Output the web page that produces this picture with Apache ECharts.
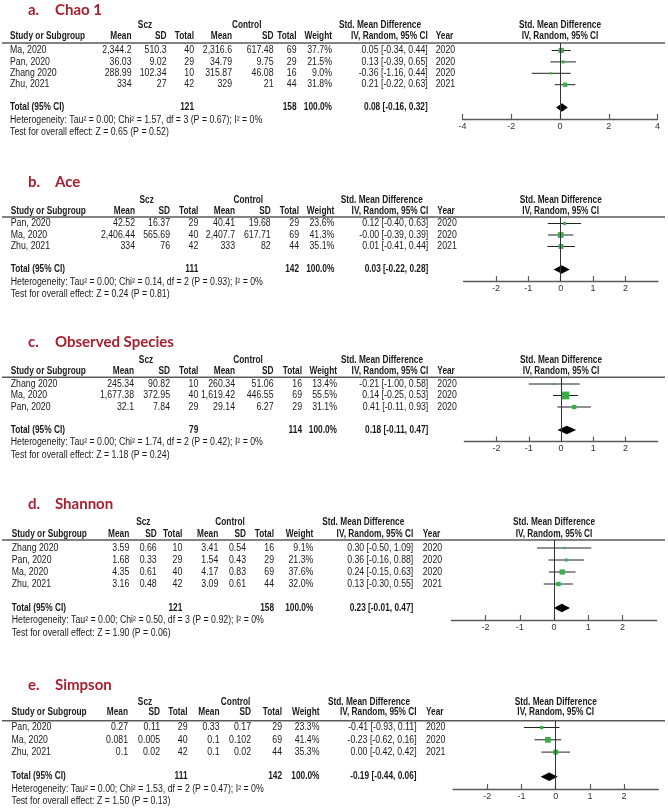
<!DOCTYPE html>
<html><head><meta charset="utf-8">
<script src="https://cdn.jsdelivr.net/npm/echarts@6/dist/echarts.min.js"></script>
<style>html,body{margin:0;padding:0;background:#fff}#c{width:668px;height:809px}</style>
</head><body><div id="c"></div>
<script>
// ---------- a. Chao 1 ----------
const chaoStudies = ['Ma, 2020', 'Pan, 2020', 'Zhang 2020', 'Zhu, 2021'];
const chaoSczMean = [2344.2, 36.03, 288.99, 334];
const chaoSczSD = [510.3, 9.02, 102.34, 27];
const chaoSczN = [40, 29, 10, 42];
const chaoCtlMean = [2316.6, 34.79, 315.87, 329];
const chaoCtlSD = [617.48, 9.75, 46.08, 21];
const chaoCtlN = [69, 29, 16, 44];
const chaoWeight = [37.7, 21.5, 9.0, 31.8];
const chaoSmd = [0.05, 0.13, -0.36, 0.21];
const chaoLow = [-0.34, -0.39, -1.16, -0.22];
const chaoHigh = [0.44, 0.65, 0.44, 0.63];
const chaoYear = [2020, 2020, 2020, 2021];
const chaoTotals = [121, 158];
const chaoPooled = [0.08, -0.16, 0.32];
const chaoHet = 'Heterogeneity: Tau² = 0.00; Chi² = 1.57, df = 3 (P = 0.67); I² = 0%';
const chaoTest = 'Test for overall effect: Z = 0.65 (P = 0.52)';
const chaoTicks = [-4, -2, 0, 2, 4];

// ---------- b. Ace ----------
const aceStudies = ['Pan, 2020', 'Ma, 2020', 'Zhu, 2021'];
const aceSczMean = [42.52, 2406.44, 334];
const aceSczSD = [16.37, 565.69, 76];
const aceSczN = [29, 40, 42];
const aceCtlMean = [40.41, 2407.7, 333];
const aceCtlSD = [19.68, 617.71, 82];
const aceCtlN = [29, 69, 44];
const aceWeight = [23.6, 41.3, 35.1];
const aceSmd = [0.12, -0, 0.01];
const aceLow = [-0.40, -0.39, -0.41];
const aceHigh = [0.63, 0.39, 0.44];
const aceYear = [2020, 2020, 2021];
const aceTotals = [111, 142];
const acePooled = [0.03, -0.22, 0.28];
const aceHet = 'Heterogeneity: Tau² = 0.00; Chi² = 0.14, df = 2 (P = 0.93); I² = 0%';
const aceTest = 'Test for overall effect: Z = 0.24 (P = 0.81)';
const aceTicks = [-2, -1, 0, 1, 2];

// ---------- c. Observed Species ----------
const obsStudies = ['Zhang 2020', 'Ma, 2020', 'Pan, 2020'];
const obsSczMean = [245.34, 1677.38, 32.1];
const obsSczSD = [90.82, 372.95, 7.84];
const obsSczN = [10, 40, 29];
const obsCtlMean = [260.34, 1619.42, 29.14];
const obsCtlSD = [51.06, 446.55, 6.27];
const obsCtlN = [16, 69, 29];
const obsWeight = [13.4, 55.5, 31.1];
const obsSmd = [-0.21, 0.14, 0.41];
const obsLow = [-1.00, -0.25, -0.11];
const obsHigh = [0.58, 0.53, 0.93];
const obsYear = [2020, 2020, 2020];
const obsTotals = [79, 114];
const obsPooled = [0.18, -0.11, 0.47];
const obsHet = 'Heterogeneity: Tau² = 0.00; Chi² = 1.74, df = 2 (P = 0.42); I² = 0%';
const obsTest = 'Test for overall effect: Z = 1.18 (P = 0.24)';
const obsTicks = [-2, -1, 0, 1, 2];

// ---------- d. Shannon ----------
const shanStudies = ['Zhang 2020', 'Pan, 2020', 'Ma, 2020', 'Zhu, 2021'];
const shanSczMean = [3.59, 1.68, 4.35, 3.16];
const shanSczSD = [0.66, 0.33, 0.61, 0.48];
const shanSczN = [10, 29, 40, 42];
const shanCtlMean = [3.41, 1.54, 4.17, 3.09];
const shanCtlSD = [0.54, 0.43, 0.83, 0.61];
const shanCtlN = [16, 29, 69, 44];
const shanWeight = [9.1, 21.3, 37.6, 32.0];
const shanSmd = [0.30, 0.36, 0.24, 0.13];
const shanLow = [-0.50, -0.16, -0.15, -0.30];
const shanHigh = [1.09, 0.88, 0.63, 0.55];
const shanYear = [2020, 2020, 2020, 2021];
const shanTotals = [121, 158];
const shanPooled = [0.23, -0.01, 0.47];
const shanHet = 'Heterogeneity: Tau² = 0.00; Chi² = 0.50, df = 3 (P = 0.92); I² = 0%';
const shanTest = 'Test for overall effect: Z = 1.90 (P = 0.06)';
const shanTicks = [-2, -1, 0, 1, 2];

// ---------- e. Simpson ----------
const simpStudies = ['Pan, 2020', 'Ma, 2020', 'Zhu, 2021'];
const simpSczMean = [0.27, 0.081, 0.1];
const simpSczSD = [0.11, 0.005, 0.02];
const simpSczN = [29, 40, 42];
const simpCtlMean = [0.33, 0.1, 0.1];
const simpCtlSD = [0.17, 0.102, 0.02];
const simpCtlN = [29, 69, 44];
const simpWeight = [23.3, 41.4, 35.3];
const simpSmd = [-0.41, -0.23, 0.00];
const simpLow = [-0.93, -0.62, -0.42];
const simpHigh = [0.11, 0.16, 0.42];
const simpYear = [2020, 2020, 2021];
const simpTotals = [111, 142];
const simpPooled = [-0.19, -0.44, 0.06];
const simpHet = 'Heterogeneity: Tau² = 0.00; Chi² = 1.53, df = 2 (P = 0.47); I² = 0%';
const simpTest = 'Test for overall effect: Z = 1.50 (P = 0.13)';
const simpTicks = [-2, -1, 0, 1, 2];

const panelLetters = ['a.', 'b.', 'c.', 'd.', 'e.'];
const panelTitles = ['Chao 1', 'Ace', 'Observed Species', 'Shannon', 'Simpson'];

const panels = [
  {studies: chaoStudies, sczMean: chaoSczMean, sczSD: chaoSczSD, sczN: chaoSczN, ctlMean: chaoCtlMean, ctlSD: chaoCtlSD, ctlN: chaoCtlN, weight: chaoWeight, smd: chaoSmd, low: chaoLow, high: chaoHigh, year: chaoYear, totals: chaoTotals, pooled: chaoPooled, het: chaoHet, test: chaoTest, ticks: chaoTicks},
  {studies: aceStudies, sczMean: aceSczMean, sczSD: aceSczSD, sczN: aceSczN, ctlMean: aceCtlMean, ctlSD: aceCtlSD, ctlN: aceCtlN, weight: aceWeight, smd: aceSmd, low: aceLow, high: aceHigh, year: aceYear, totals: aceTotals, pooled: acePooled, het: aceHet, test: aceTest, ticks: aceTicks},
  {studies: obsStudies, sczMean: obsSczMean, sczSD: obsSczSD, sczN: obsSczN, ctlMean: obsCtlMean, ctlSD: obsCtlSD, ctlN: obsCtlN, weight: obsWeight, smd: obsSmd, low: obsLow, high: obsHigh, year: obsYear, totals: obsTotals, pooled: obsPooled, het: obsHet, test: obsTest, ticks: obsTicks},
  {studies: shanStudies, sczMean: shanSczMean, sczSD: shanSczSD, sczN: shanSczN, ctlMean: shanCtlMean, ctlSD: shanCtlSD, ctlN: shanCtlN, weight: shanWeight, smd: shanSmd, low: shanLow, high: shanHigh, year: shanYear, totals: shanTotals, pooled: shanPooled, het: shanHet, test: shanTest, ticks: shanTicks},
  {studies: simpStudies, sczMean: simpSczMean, sczSD: simpSczSD, sczN: simpSczN, ctlMean: simpCtlMean, ctlSD: simpCtlSD, ctlN: simpCtlN, weight: simpWeight, smd: simpSmd, low: simpLow, high: simpHigh, year: simpYear, totals: simpTotals, pooled: simpPooled, het: simpHet, test: simpTest, ticks: simpTicks}
];

// ---------- layout (pixels) ----------
const layouts = [
  {titleY: 10, h1Y: 25, h2Y: 36.5, lineY: 43, row1Y: 50.5, rowH: 11.4, zeroX: 560, unit: 24.4, xMin: -4, xMax: 4, interval: 2,
   cols: [10, 131.5, 166.5, 194, 232, 273.5, 296.5, 332, 427.7, 435.7], grp: [145, 246.7, 380]},
  {titleY: 182, h1Y: 200, h2Y: 211.7, lineY: 217, row1Y: 223.5, rowH: 11.5, zeroX: 560.7, unit: 32.4, xMin: -3, xMax: 3, interval: 1,
   cols: [10.7, 135, 170, 198.3, 235, 270.7, 299, 334.3, 428.3, 437.3], grp: [146.7, 248.3, 381.7]},
  {titleY: 342, h1Y: 360, h2Y: 371.7, lineY: 377.3, row1Y: 384, rowH: 11.5, zeroX: 561, unit: 32.2, xMin: -3, xMax: 3, interval: 1,
   cols: [10.7, 134, 170, 198.3, 235, 273.5, 302, 337, 428.3, 437.3], grp: [146, 248, 382]},
  {titleY: 504, h1Y: 522.3, h2Y: 534, lineY: 540, row1Y: 548, rowH: 12, zeroX: 554, unit: 34.2, xMin: -3, xMax: 3, interval: 1,
   cols: [11.7, 129.3, 156.7, 182.3, 218.3, 246, 274, 313.3, 413.3, 422.7], grp: [143.3, 230, 363.3]},
  {titleY: 685, h1Y: 702.7, h2Y: 712.7, lineY: 720.7, row1Y: 727.5, rowH: 12.3, zeroX: 555.7, unit: 34.2, xMin: -3, xMax: 3, interval: 1,
   cols: [11.5, 128, 160, 187.5, 219.5, 251, 282, 319.5, 416.6, 426], grp: [145, 235.6, 369]}
];

const TFONT = '"Liberation Sans", Arial, sans-serif';
const FS = 10;
const SCALE_REG = 0.875;
const SCALE_BOLD = 0.83;
const TXT = '#1a1a1a';
const RED = '#a91f2e';
const GREEN = '#3aae4a';

const fmtNum = v => { const p = String(v).split('.'); p[0] = p[0].replace(/\B(?=(\d{3})+(?!\d))/g, ','); return p.join('.'); };
const fmt2 = v => ((v < 0 || Object.is(v, -0)) ? '-' : '') + Math.abs(v).toFixed(2);
const ciText = (m, l, h) => fmt2(m) + ' [' + fmt2(l) + ', ' + fmt2(h) + ']';

const graphics = [];
function txt(x, y, text, align, bold, opts) {
  opts = opts || {};
  const font = (bold ? 'bold ' : '') + (opts.size || FS) + 'px ' + (opts.family || TFONT);
  const sx = opts.scaleX !== undefined ? opts.scaleX : (bold ? SCALE_BOLD : SCALE_REG);
  graphics.push({type: 'text', x: x, y: y, scaleX: sx, scaleY: 1, silent: true,
    style: {text: text, fill: opts.color || TXT, font: font, textAlign: align, align: align,
            textVerticalAlign: 'middle', verticalAlign: 'middle'}});
}
function hline(x1, x2, y, color, w) {
  graphics.push({type: 'line', silent: true, shape: {x1: x1, y1: y, x2: x2, y2: y}, style: {stroke: color, lineWidth: w}});
}

const grids = [], xAxes = [], yAxes = [], series = [];

panels.forEach((p, k) => {
  const L = layouts[k];
  const N = p.studies.length;
  const rowY = i => L.row1Y + (i - 1) * L.rowH;
  const axisY = rowY(N + 3);
  const c = L.cols;

  // titles
  const tOpts = {size: 15, family: 'Lato, "Open Sans", sans-serif', color: RED, scaleX: 1};
  txt(28, L.titleY, panelLetters[k], 'left', true, tOpts);
  txt(55, L.titleY, panelTitles[k], 'left', true, tOpts);

  // header
  txt(L.grp[0], L.h1Y, 'Scz', 'center', true);
  txt(L.grp[1], L.h1Y, 'Control', 'center', true);
  txt(L.grp[2], L.h1Y, 'Std. Mean Difference', 'center', true);
  txt(L.zeroX, L.h1Y, 'Std. Mean Difference', 'center', true);
  txt(c[0], L.h2Y, 'Study or Subgroup', 'left', true);
  ['Mean', 'SD', 'Total', 'Mean', 'SD', 'Total', 'Weight', 'IV, Random, 95% CI'].forEach((h, j) => txt(c[j + 1], L.h2Y, h, 'right', true));
  txt(c[9], L.h2Y, 'Year', 'left', true);
  txt(L.zeroX, L.h2Y, 'IV, Random, 95% CI', 'center', true);
  hline(2, 665, L.lineY, '#5a5a5a', 1.6);

  // study rows
  p.studies.forEach((s, i) => {
    const y = rowY(i + 1);
    txt(c[0], y, s, 'left', false);
    txt(c[1], y, fmtNum(p.sczMean[i]), 'right', false);
    txt(c[2], y, fmtNum(p.sczSD[i]), 'right', false);
    txt(c[3], y, String(p.sczN[i]), 'right', false);
    txt(c[4], y, fmtNum(p.ctlMean[i]), 'right', false);
    txt(c[5], y, fmtNum(p.ctlSD[i]), 'right', false);
    txt(c[6], y, String(p.ctlN[i]), 'right', false);
    txt(c[7], y, p.weight[i].toFixed(1) + '%', 'right', false);
    txt(c[8], y, ciText(p.smd[i], p.low[i], p.high[i]), 'right', false);
    txt(c[9], y, String(p.year[i]), 'left', false);
  });

  // total row
  const ty = rowY(N + 2);
  txt(c[0], ty, 'Total (95% CI)', 'left', true);
  txt(c[3], ty, String(p.totals[0]), 'right', true);
  txt(c[6], ty, String(p.totals[1]), 'right', true);
  txt(c[7], ty, '100.0%', 'right', true);
  txt(c[8], ty, ciText(p.pooled[0], p.pooled[1], p.pooled[2]), 'right', true);
  txt(c[0], ty + 12.3, p.het, 'left', false);
  txt(c[0], ty + 24.8, p.test, 'left', false);

  // forest plot grid
  grids.push({left: L.zeroX + L.xMin * L.unit, width: (L.xMax - L.xMin) * L.unit, top: L.lineY, height: axisY - L.lineY,
              containLabel: false, outerBoundsMode: 'none'});
  xAxes.push({gridIndex: k, type: 'value', min: L.xMin, max: L.xMax, interval: L.interval,
    axisLine: {show: true, onZero: false, lineStyle: {color: '#5a5a5a', width: 1.4}},
    axisTick: {show: true, inside: true, length: 5, customValues: p.ticks, lineStyle: {color: '#5a5a5a', width: 1.2}},
    axisLabel: {show: true, customValues: p.ticks, margin: 3, fontSize: 9, fontFamily: TFONT, color: '#333'},
    splitLine: {show: false}});
  yAxes.push({gridIndex: k, type: 'value', inverse: true, min: 1 - (L.row1Y - L.lineY) / L.rowH, max: N + 3, show: false,
    splitLine: {show: false}});

  // CI whiskers + zero line
  series.push({type: 'custom', xAxisIndex: k, yAxisIndex: k, silent: true, z: 2,
    data: p.studies.map((s, i) => [p.low[i], p.high[i], i + 1]),
    encode: {x: [0, 1], y: 2},
    renderItem: (params, api) => {
      const a = api.coord([api.value(0), api.value(2)]);
      const b = api.coord([api.value(1), api.value(2)]);
      return {type: 'line', shape: {x1: a[0], y1: a[1], x2: b[0], y2: b[1]}, style: {stroke: '#222', lineWidth: 1}};
    },
    markLine: {silent: true, symbol: 'none', animation: false, label: {show: false},
      lineStyle: {color: '#333', width: 1, type: 'solid'}, data: [{xAxis: 0}]}
  });
  // study squares (size by weight)
  series.push({type: 'scatter', xAxisIndex: k, yAxisIndex: k, silent: true, z: 3, symbol: 'rect',
    data: p.studies.map((s, i) => [p.smd[i], i + 1, p.weight[i]]),
    symbolSize: v => Math.max(2.2, v[2] * 0.14),
    itemStyle: {color: GREEN, opacity: 1}});
  // pooled diamond
  series.push({type: 'custom', xAxisIndex: k, yAxisIndex: k, silent: true, z: 3,
    data: [[p.pooled[0], p.pooled[1], p.pooled[2], N + 2]],
    encode: {x: [0, 1, 2], y: 3},
    renderItem: (params, api) => {
      const row = api.value(3);
      const m = api.coord([api.value(0), row]);
      const l = api.coord([api.value(1), row]);
      const h = api.coord([api.value(2), row]);
      return {type: 'polygon', shape: {points: [[l[0], l[1]], [m[0], m[1] - 4.2], [h[0], h[1]], [m[0], m[1] + 4.2]]},
              style: {fill: '#000'}};
    }
  });
});

const chart = echarts.init(document.getElementById('c'), null, {renderer: 'canvas'});
chart.setOption({
  backgroundColor: '#fff',
  animation: false,
  grid: grids, xAxis: xAxes, yAxis: yAxes, series: series,
  graphic: {elements: graphics}
});
</script></body></html>
